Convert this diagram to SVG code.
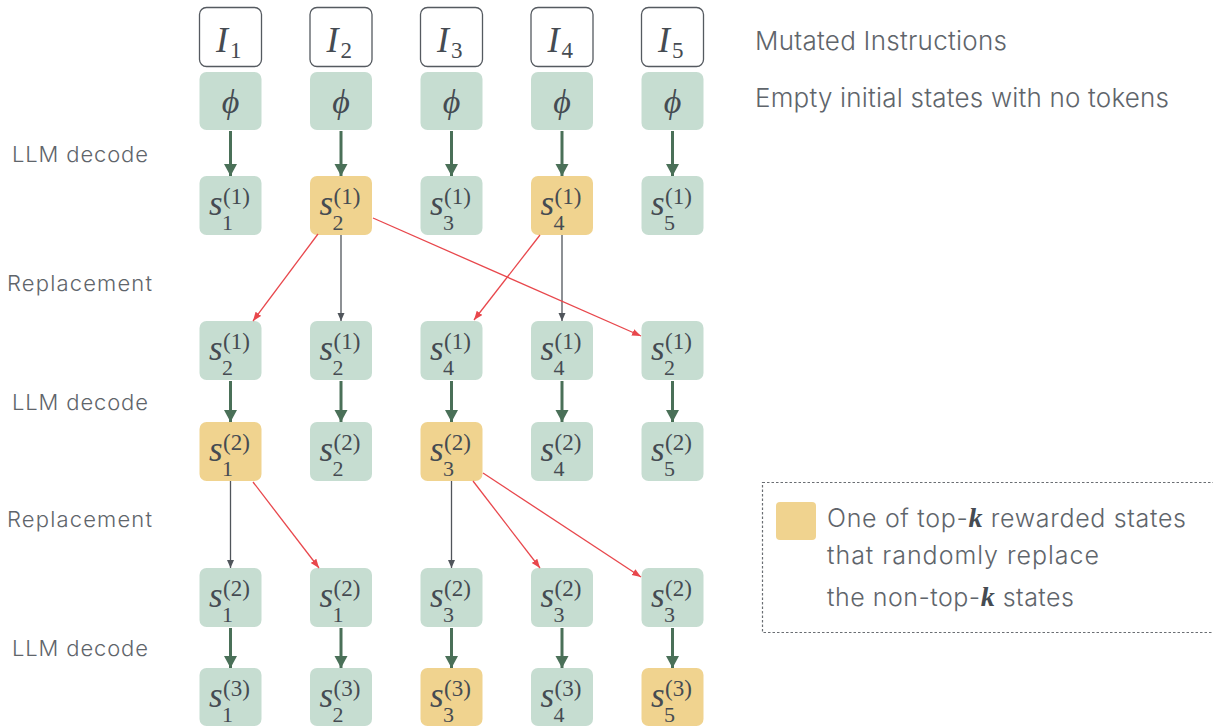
<svg xmlns="http://www.w3.org/2000/svg" width="1213" height="727" viewBox="0 0 1213 727">
<style>
.g{fill:#c6ddd1}
.y{fill:#f0d38f}
.iw{fill:#fff;stroke:#555a60;stroke-width:1.3}
.m{font-family:"Liberation Serif","Times New Roman","DejaVu Serif",serif;fill:#454b52}
.big{font-size:35px;font-style:italic}
.sup{font-size:23px;font-style:normal}
.sub{font-size:22px;font-style:normal}
.ibig{font-size:36px;font-style:italic}
.isub{font-size:23px;font-style:normal}
.phi{font-size:34px;font-style:italic}
.lbl{font-family:Inter,"Liberation Sans",sans-serif;font-weight:300;fill:#5f656b}
.mk{font-family:"Liberation Serif","Times New Roman",serif;font-style:italic;font-weight:bold;font-size:28px;fill:#454b52}
.dec{stroke:#4a7058;stroke-width:3;fill:none}
.gr{stroke:#50555b;stroke-width:1.3;fill:none}
.rd{stroke:#e8474c;stroke-width:1.3;fill:none}
</style>
<defs>
<marker id="ad" markerUnits="userSpaceOnUse" markerWidth="14" markerHeight="14" refX="12" refY="6.5" orient="auto">
<path d="M0,0 L12,6.5 L0,13 z" fill="#4a7058"/>
</marker>
<marker id="ag" markerUnits="userSpaceOnUse" markerWidth="10" markerHeight="10" refX="8" refY="3.5" orient="auto">
<path d="M0,0 L8,3.5 L0,7 z" fill="#50555b"/>
</marker>
<marker id="ar" markerUnits="userSpaceOnUse" markerWidth="10" markerHeight="10" refX="9" refY="3.5" orient="auto">
<path d="M0,0 L9,3.5 L0,7 z" fill="#e8474c"/>
</marker>
</defs>

<!-- left labels -->
<g id="labels-left" class="lbl" font-size="22">
<text x="12" y="162" textLength="136">LLM decode</text>
<text x="7" y="291" textLength="145">Replacement</text>
<text x="12" y="410" textLength="136">LLM decode</text>
<text x="7" y="527" textLength="145">Replacement</text>
<text x="12" y="656" textLength="136">LLM decode</text>
</g>

<!-- right labels -->
<g id="labels-right" class="lbl" font-size="26">
<text x="755" y="50" textLength="252">Mutated Instructions</text>
<text x="755" y="107" textLength="414">Empty initial states with no tokens</text>
</g>

<!-- instruction row -->
<g id="I1"><rect class="iw" x="199.5" y="7.5" width="62" height="59" rx="7"/><text class="m"><tspan class="ibig" font-style="italic" x="216" y="52">I</tspan><tspan class="isub" x="230" y="58">1</tspan></text></g>
<g id="I2"><rect class="iw" x="310" y="7.5" width="62" height="59" rx="7"/><text class="m"><tspan class="ibig" font-style="italic" x="326.5" y="52">I</tspan><tspan class="isub" x="340.5" y="58">2</tspan></text></g>
<g id="I3"><rect class="iw" x="420.5" y="7.5" width="62" height="59" rx="7"/><text class="m"><tspan class="ibig" font-style="italic" x="437" y="52">I</tspan><tspan class="isub" x="451" y="58">3</tspan></text></g>
<g id="I4"><rect class="iw" x="531" y="7.5" width="62" height="59" rx="7"/><text class="m"><tspan class="ibig" font-style="italic" x="547.5" y="52">I</tspan><tspan class="isub" x="561.5" y="58">4</tspan></text></g>
<g id="I5"><rect class="iw" x="641.5" y="7.5" width="62" height="59" rx="7"/><text class="m"><tspan class="ibig" font-style="italic" x="658" y="52">I</tspan><tspan class="isub" x="672" y="58">5</tspan></text></g>

<!-- phi row -->
<g id="P1"><rect class="g" x="199.5" y="72" width="62" height="58" rx="7"/><text class="m phi" font-style="italic" x="230.5" y="113" text-anchor="middle">ϕ</text></g>
<g id="P2"><rect class="g" x="310" y="72" width="62" height="58" rx="7"/><text class="m phi" font-style="italic" x="341" y="113" text-anchor="middle">ϕ</text></g>
<g id="P3"><rect class="g" x="420.5" y="72" width="62" height="58" rx="7"/><text class="m phi" font-style="italic" x="451.5" y="113" text-anchor="middle">ϕ</text></g>
<g id="P4"><rect class="g" x="531" y="72" width="62" height="58" rx="7"/><text class="m phi" font-style="italic" x="562" y="113" text-anchor="middle">ϕ</text></g>
<g id="P5"><rect class="g" x="641.5" y="72" width="62" height="58" rx="7"/><text class="m phi" font-style="italic" x="672.5" y="113" text-anchor="middle">ϕ</text></g>

<!-- row 1 : top 176 -->
<g id="R1C1"><rect class="g" x="199.5" y="176" width="62" height="59" rx="7"/><text class="m"><tspan class="big" font-style="italic" x="209" y="215">s</tspan><tspan class="sup" x="223" y="204">(1)</tspan><tspan class="sub" x="222" y="230">1</tspan></text></g>
<g id="R1C2"><rect class="y" x="310" y="176" width="62" height="59" rx="7"/><text class="m"><tspan class="big" font-style="italic" x="319.5" y="215">s</tspan><tspan class="sup" x="333.5" y="204">(1)</tspan><tspan class="sub" x="332.5" y="230">2</tspan></text></g>
<g id="R1C3"><rect class="g" x="420.5" y="176" width="62" height="59" rx="7"/><text class="m"><tspan class="big" font-style="italic" x="430" y="215">s</tspan><tspan class="sup" x="444" y="204">(1)</tspan><tspan class="sub" x="443" y="230">3</tspan></text></g>
<g id="R1C4"><rect class="y" x="531" y="176" width="62" height="59" rx="7"/><text class="m"><tspan class="big" font-style="italic" x="540.5" y="215">s</tspan><tspan class="sup" x="554.5" y="204">(1)</tspan><tspan class="sub" x="553.5" y="230">4</tspan></text></g>
<g id="R1C5"><rect class="g" x="641.5" y="176" width="62" height="59" rx="7"/><text class="m"><tspan class="big" font-style="italic" x="651" y="215">s</tspan><tspan class="sup" x="665" y="204">(1)</tspan><tspan class="sub" x="664" y="230">5</tspan></text></g>

<!-- row 2 : top 321 -->
<g id="R2C1"><rect class="g" x="199.5" y="321" width="62" height="59" rx="7"/><text class="m"><tspan class="big" font-style="italic" x="209" y="360">s</tspan><tspan class="sup" x="223" y="349">(1)</tspan><tspan class="sub" x="222" y="375">2</tspan></text></g>
<g id="R2C2"><rect class="g" x="310" y="321" width="62" height="59" rx="7"/><text class="m"><tspan class="big" font-style="italic" x="319.5" y="360">s</tspan><tspan class="sup" x="333.5" y="349">(1)</tspan><tspan class="sub" x="332.5" y="375">2</tspan></text></g>
<g id="R2C3"><rect class="g" x="420.5" y="321" width="62" height="59" rx="7"/><text class="m"><tspan class="big" font-style="italic" x="430" y="360">s</tspan><tspan class="sup" x="444" y="349">(1)</tspan><tspan class="sub" x="443" y="375">4</tspan></text></g>
<g id="R2C4"><rect class="g" x="531" y="321" width="62" height="59" rx="7"/><text class="m"><tspan class="big" font-style="italic" x="540.5" y="360">s</tspan><tspan class="sup" x="554.5" y="349">(1)</tspan><tspan class="sub" x="553.5" y="375">4</tspan></text></g>
<g id="R2C5"><rect class="g" x="641.5" y="321" width="62" height="59" rx="7"/><text class="m"><tspan class="big" font-style="italic" x="651" y="360">s</tspan><tspan class="sup" x="665" y="349">(1)</tspan><tspan class="sub" x="664" y="375">2</tspan></text></g>

<!-- row 3 : top 422 -->
<g id="R3C1"><rect class="y" x="199.5" y="422" width="62" height="59" rx="7"/><text class="m"><tspan class="big" font-style="italic" x="209" y="461">s</tspan><tspan class="sup" x="223" y="450">(2)</tspan><tspan class="sub" x="222" y="476">1</tspan></text></g>
<g id="R3C2"><rect class="g" x="310" y="422" width="62" height="59" rx="7"/><text class="m"><tspan class="big" font-style="italic" x="319.5" y="461">s</tspan><tspan class="sup" x="333.5" y="450">(2)</tspan><tspan class="sub" x="332.5" y="476">2</tspan></text></g>
<g id="R3C3"><rect class="y" x="420.5" y="422" width="62" height="59" rx="7"/><text class="m"><tspan class="big" font-style="italic" x="430" y="461">s</tspan><tspan class="sup" x="444" y="450">(2)</tspan><tspan class="sub" x="443" y="476">3</tspan></text></g>
<g id="R3C4"><rect class="g" x="531" y="422" width="62" height="59" rx="7"/><text class="m"><tspan class="big" font-style="italic" x="540.5" y="461">s</tspan><tspan class="sup" x="554.5" y="450">(2)</tspan><tspan class="sub" x="553.5" y="476">4</tspan></text></g>
<g id="R3C5"><rect class="g" x="641.5" y="422" width="62" height="59" rx="7"/><text class="m"><tspan class="big" font-style="italic" x="651" y="461">s</tspan><tspan class="sup" x="665" y="450">(2)</tspan><tspan class="sub" x="664" y="476">5</tspan></text></g>

<!-- row 4 : top 568 -->
<g id="R4C1"><rect class="g" x="199.5" y="568" width="62" height="59" rx="7"/><text class="m"><tspan class="big" font-style="italic" x="209" y="607">s</tspan><tspan class="sup" x="223" y="596">(2)</tspan><tspan class="sub" x="222" y="622">1</tspan></text></g>
<g id="R4C2"><rect class="g" x="310" y="568" width="62" height="59" rx="7"/><text class="m"><tspan class="big" font-style="italic" x="319.5" y="607">s</tspan><tspan class="sup" x="333.5" y="596">(2)</tspan><tspan class="sub" x="332.5" y="622">1</tspan></text></g>
<g id="R4C3"><rect class="g" x="420.5" y="568" width="62" height="59" rx="7"/><text class="m"><tspan class="big" font-style="italic" x="430" y="607">s</tspan><tspan class="sup" x="444" y="596">(2)</tspan><tspan class="sub" x="443" y="622">3</tspan></text></g>
<g id="R4C4"><rect class="g" x="531" y="568" width="62" height="59" rx="7"/><text class="m"><tspan class="big" font-style="italic" x="540.5" y="607">s</tspan><tspan class="sup" x="554.5" y="596">(2)</tspan><tspan class="sub" x="553.5" y="622">3</tspan></text></g>
<g id="R4C5"><rect class="g" x="641.5" y="568" width="62" height="59" rx="7"/><text class="m"><tspan class="big" font-style="italic" x="651" y="607">s</tspan><tspan class="sup" x="665" y="596">(2)</tspan><tspan class="sub" x="664" y="622">3</tspan></text></g>

<!-- row 5 : top 668 -->
<g id="R5C1"><rect class="g" x="199.5" y="668" width="62" height="58" rx="7"/><text class="m"><tspan class="big" font-style="italic" x="209" y="707">s</tspan><tspan class="sup" x="223" y="696">(3)</tspan><tspan class="sub" x="222" y="722">1</tspan></text></g>
<g id="R5C2"><rect class="g" x="310" y="668" width="62" height="58" rx="7"/><text class="m"><tspan class="big" font-style="italic" x="319.5" y="707">s</tspan><tspan class="sup" x="333.5" y="696">(3)</tspan><tspan class="sub" x="332.5" y="722">2</tspan></text></g>
<g id="R5C3"><rect class="y" x="420.5" y="668" width="62" height="58" rx="7"/><text class="m"><tspan class="big" font-style="italic" x="430" y="707">s</tspan><tspan class="sup" x="444" y="696">(3)</tspan><tspan class="sub" x="443" y="722">3</tspan></text></g>
<g id="R5C4"><rect class="g" x="531" y="668" width="62" height="58" rx="7"/><text class="m"><tspan class="big" font-style="italic" x="540.5" y="707">s</tspan><tspan class="sup" x="554.5" y="696">(3)</tspan><tspan class="sub" x="553.5" y="722">4</tspan></text></g>
<g id="R5C5"><rect class="y" x="641.5" y="668" width="62" height="58" rx="7"/><text class="m"><tspan class="big" font-style="italic" x="651" y="707">s</tspan><tspan class="sup" x="665" y="696">(3)</tspan><tspan class="sub" x="664" y="722">5</tspan></text></g>

<!-- connectors -->
<g id="connectors">
<line class="dec" x1="230.5" y1="131" x2="230.5" y2="176" marker-end="url(#ad)"/>
<line class="dec" x1="341" y1="131" x2="341" y2="176" marker-end="url(#ad)"/>
<line class="dec" x1="451.5" y1="131" x2="451.5" y2="176" marker-end="url(#ad)"/>
<line class="dec" x1="562" y1="131" x2="562" y2="176" marker-end="url(#ad)"/>
<line class="dec" x1="672.5" y1="131" x2="672.5" y2="176" marker-end="url(#ad)"/>

<line class="dec" x1="230.5" y1="381" x2="230.5" y2="422" marker-end="url(#ad)"/>
<line class="dec" x1="341" y1="381" x2="341" y2="422" marker-end="url(#ad)"/>
<line class="dec" x1="451.5" y1="381" x2="451.5" y2="422" marker-end="url(#ad)"/>
<line class="dec" x1="562" y1="381" x2="562" y2="422" marker-end="url(#ad)"/>
<line class="dec" x1="672.5" y1="381" x2="672.5" y2="422" marker-end="url(#ad)"/>

<line class="dec" x1="230.5" y1="628" x2="230.5" y2="668" marker-end="url(#ad)"/>
<line class="dec" x1="341" y1="628" x2="341" y2="668" marker-end="url(#ad)"/>
<line class="dec" x1="451.5" y1="628" x2="451.5" y2="668" marker-end="url(#ad)"/>
<line class="dec" x1="562" y1="628" x2="562" y2="668" marker-end="url(#ad)"/>
<line class="dec" x1="672.5" y1="628" x2="672.5" y2="668" marker-end="url(#ad)"/>

<line class="gr" x1="341" y1="235" x2="341" y2="321" marker-end="url(#ag)"/>
<line class="gr" x1="562" y1="235" x2="562" y2="321" marker-end="url(#ag)"/>
<line class="gr" x1="230.5" y1="481" x2="230.5" y2="568" marker-end="url(#ag)"/>
<line class="gr" x1="451.5" y1="481" x2="451.5" y2="568" marker-end="url(#ag)"/>

<line class="rd" x1="318" y1="234" x2="253" y2="321" marker-end="url(#ar)"/>
<line class="rd" x1="373" y1="218" x2="641" y2="336" marker-end="url(#ar)"/>
<line class="rd" x1="540" y1="235" x2="474" y2="320" marker-end="url(#ar)"/>
<line class="rd" x1="253" y1="482" x2="319" y2="568" marker-end="url(#ar)"/>
<line class="rd" x1="473" y1="481" x2="540" y2="568" marker-end="url(#ar)"/>
<line class="rd" x1="483" y1="473" x2="641" y2="577" marker-end="url(#ar)"/>
</g>

<!-- legend -->
<g id="legend">
<rect x="762.5" y="482.5" width="460" height="150" fill="none" stroke="#6a6e73" stroke-width="1.2" stroke-dasharray="2.5,2"/>
<rect class="y" x="776" y="502" width="40" height="38" rx="4"/>
<g class="lbl" font-size="25">
<text x="827" y="527" textLength="359">One of top-<tspan class="mk">k</tspan> rewarded states</text>
<text x="827" y="564" textLength="272">that randomly replace</text>
<text x="827" y="606" textLength="247">the non-top-<tspan class="mk">k</tspan> states</text>
</g>
</g>
</svg>
